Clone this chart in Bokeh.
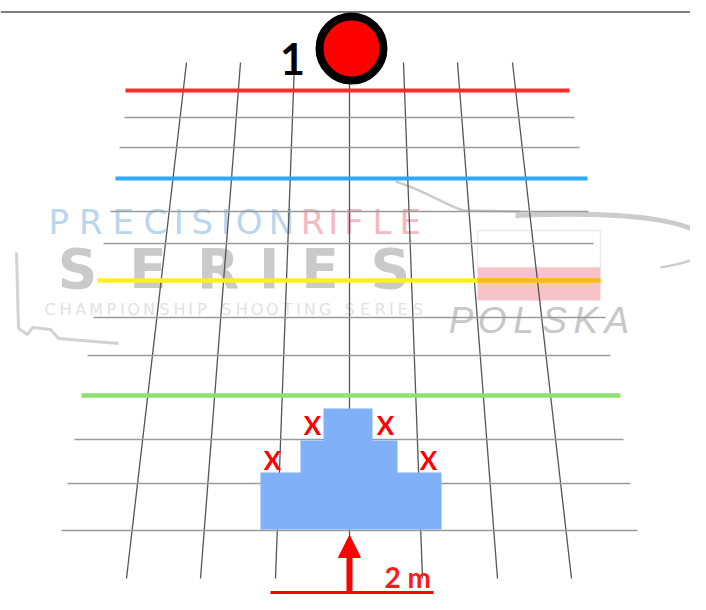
from bokeh.plotting import figure
from bokeh.models import Range1d, Arrow, NormalHead
from bokeh.core.properties import value
from bokeh.embed import file_html
from bokeh.resources import INLINE

# ---- grid (pixel-like coordinates, y grows downward) ----
h_y = [90, 117, 147, 178, 211, 243, 280, 317, 355, 395, 439, 483, 530]
h_left = [125, 124, 119, 115, 110, 103, 97, 93, 87, 81, 74, 67, 61]
h_right = [569, 574, 579, 587, 588, 593, 600, 605, 610, 620, 623, 630, 637]
h_kind = ["red", "grey", "grey", "blue", "grey", "grey", "yellow", "grey",
          "grey", "green", "grey", "grey", "grey"]
kind_color = {"red": "#ff2b2b", "blue": "#2ea8f8", "yellow": "#fff01a",
              "green": "#8fe070", "grey": "#9a9a9a"}
kind_width = {"red": 4, "blue": 4, "yellow": 4.5, "green": 4.5, "grey": 1.5}

v_top_x = [186, 240, 294, 349, 403, 457, 512]
v_bottom_x = [126, 200, 275, 349, 422, 497, 571]
v_top_y = 62
v_bottom_y = 578

# ---- stepped blue block ----
block_x = [260, 441, 441, 397, 397, 372, 372, 323, 323, 300, 300, 260]
block_y = [529, 529, 472, 472, 440, 440, 408, 408, 440, 440, 472, 472]

# ---- markers / labels ----
x_marks_x = [312, 385, 272, 428]
x_marks_y = [424, 424, 459, 459]
target_x, target_y = 351, 48
label_1 = "1"
label_dist = "2 m"

# ---- watermark texts ----
wm_precision = "PRECISION"
wm_rifle = "RIFLE"
wm_series = "SERIES"
wm_champ = "CHAMPIONSHIP SHOOTING SERIES"
wm_polska = "POLSKA"


def spread(s, x0, x1):
    w = [0.45 if c == "I" else 0.6 if c == " " else 1.0 for c in s]
    tot = sum(w)
    out, acc = [], 0.0
    for wi in w:
        out.append(x0 + (acc + wi / 2) / tot * (x1 - x0))
        acc += wi
    return out


p = figure(width=690, height=594, x_range=Range1d(0, 690), y_range=Range1d(594, 0),
           x_axis_type=None, y_axis_type=None, output_backend="svg",
           toolbar_location=None, min_border=0)
p.grid.visible = False
p.outline_line_color = None
p.background_fill_color = "white"

# top rule
p.segment(x0=[0], y0=[11.5], x1=[690], y1=[11.5], line_color="#555555", line_width=1.5)

# ---- watermark (behind grid) ----
p.line(x=[16, 18, 27, 32, 50, 58, 118], y=[252, 328, 334, 327, 329, 338, 343],
       line_color="#d2d2d2", line_width=3)
p.bezier(x0=[395], y0=[181], x1=[463], y1=[210], cx0=[425], cy0=[190], cx1=[445], cy1=[205],
         line_color="#cccccc", line_width=2.5)
p.segment(x0=[463], y0=[210], x1=[520], y1=[211], line_color="#cccccc", line_width=2.5)
p.bezier(x0=[515], y0=[215], x1=[707], y1=[242], cx0=[640], cy0=[210], cx1=[700], cy1=[222],
         line_color="#cccccc", line_width=5)
p.bezier(x0=[707], y0=[242], x1=[660], y1=[267], cx0=[712], cy0=[254], cx1=[690], cy1=[262],
         line_color="#cccccc", line_width=2.5)
p.quad(left=[477], right=[600], top=[230], bottom=[267], fill_color="white",
       line_color="#ececec", line_width=1.5)
p.quad(left=[477], right=[600], top=[267], bottom=[300], fill_color="#f7c3c9",
       line_color=None)

p.text(x=spread(wm_precision, 42, 297), y=[221] * len(wm_precision), text=list(wm_precision),
       text_font=value("DejaVu Sans"), text_font_size="34px", text_color="#bad5ee",
       text_align="center", text_baseline="middle")
p.text(x=spread(wm_rifle, 298, 424), y=[221] * len(wm_rifle), text=list(wm_rifle),
       text_font=value("DejaVu Sans"), text_font_size="34px", text_color="#f4bac1",
       text_align="center", text_baseline="middle")
p.text(x=spread(wm_series, 42, 425), y=[268] * len(wm_series), text=list(wm_series),
       text_font=value("DejaVu Sans"), text_font_style="bold", text_font_size="55px",
       text_color="#cacaca", text_align="center", text_baseline="middle")
p.text(x=spread(wm_champ, 42, 425), y=[309] * len(wm_champ), text=list(wm_champ),
       text_font=value("DejaVu Sans"), text_font_size="16px", text_color="#e2e2e2",
       text_align="center", text_baseline="middle")
p.text(x=spread(wm_polska, 445, 632), y=[320] * len(wm_polska), text=list(wm_polska),
       text_font=value("Liberation Sans"), text_font_style="italic", text_font_size="37px",
       text_color="#c8c8c8", text_align="center", text_baseline="middle")

# ---- grid lines ----
p.segment(x0=v_top_x, y0=[v_top_y] * len(v_top_x), x1=v_bottom_x,
          y1=[v_bottom_y] * len(v_bottom_x), line_color="#555555", line_width=1.3)
grey_idx = [i for i, k in enumerate(h_kind) if k == "grey"]
col_idx = [i for i, k in enumerate(h_kind) if k != "grey"]
p.segment(x0=[h_left[i] for i in grey_idx], y0=[h_y[i] for i in grey_idx],
          x1=[h_right[i] for i in grey_idx], y1=[h_y[i] for i in grey_idx],
          line_color="#9a9a9a", line_width=1.5)
p.segment(x0=[h_left[i] for i in col_idx], y0=[h_y[i] for i in col_idx],
          x1=[h_right[i] for i in col_idx], y1=[h_y[i] for i in col_idx],
          line_color=[kind_color[h_kind[i]] for i in col_idx],
          line_width=[kind_width[h_kind[i]] for i in col_idx])
yi = h_kind.index("yellow")
p.segment(x0=[477], y0=[h_y[yi]], x1=[h_right[yi]], y1=[h_y[yi]],
          line_color="#f6b825", line_width=4.5)

# ---- blue block ----
p.patch(x=block_x, y=block_y, fill_color="#80b0f8", line_color=None)

p.text(x=x_marks_x, y=x_marks_y, text=["X"] * len(x_marks_x), text_font=value("Lato"),
       text_font_style="bold", text_font_size="26px", text_color="#ff0000",
       text_align="center", text_baseline="middle")

# target
p.circle(x=[target_x], y=[target_y], radius=32, fill_color="#ff0000",
         line_color="black", line_width=8)
p.text(x=[292], y=[58], text=[label_1], text_font=value("Lato"), text_font_style="bold",
       text_font_size="43px", text_color="black", text_align="center",
       text_baseline="middle")

# arrow + distance
p.add_layout(Arrow(end=NormalHead(size=22, fill_color="#ff0000", line_color="#ff0000"),
                   x_start=349, y_start=594, x_end=349, y_end=535,
                   line_color="#ff0000", line_width=6))
p.segment(x0=[270], y0=[592], x1=[433], y1=[592], line_color="#ff0000", line_width=3)
p.text(x=[384], y=[576], text=[label_dist], text_font=value("Lato"), text_font_style="bold",
       text_font_size="28px", text_color="#ff1a1a", text_align="left",
       text_baseline="middle")

open("out.html", "w").write(file_html(p, INLINE))
